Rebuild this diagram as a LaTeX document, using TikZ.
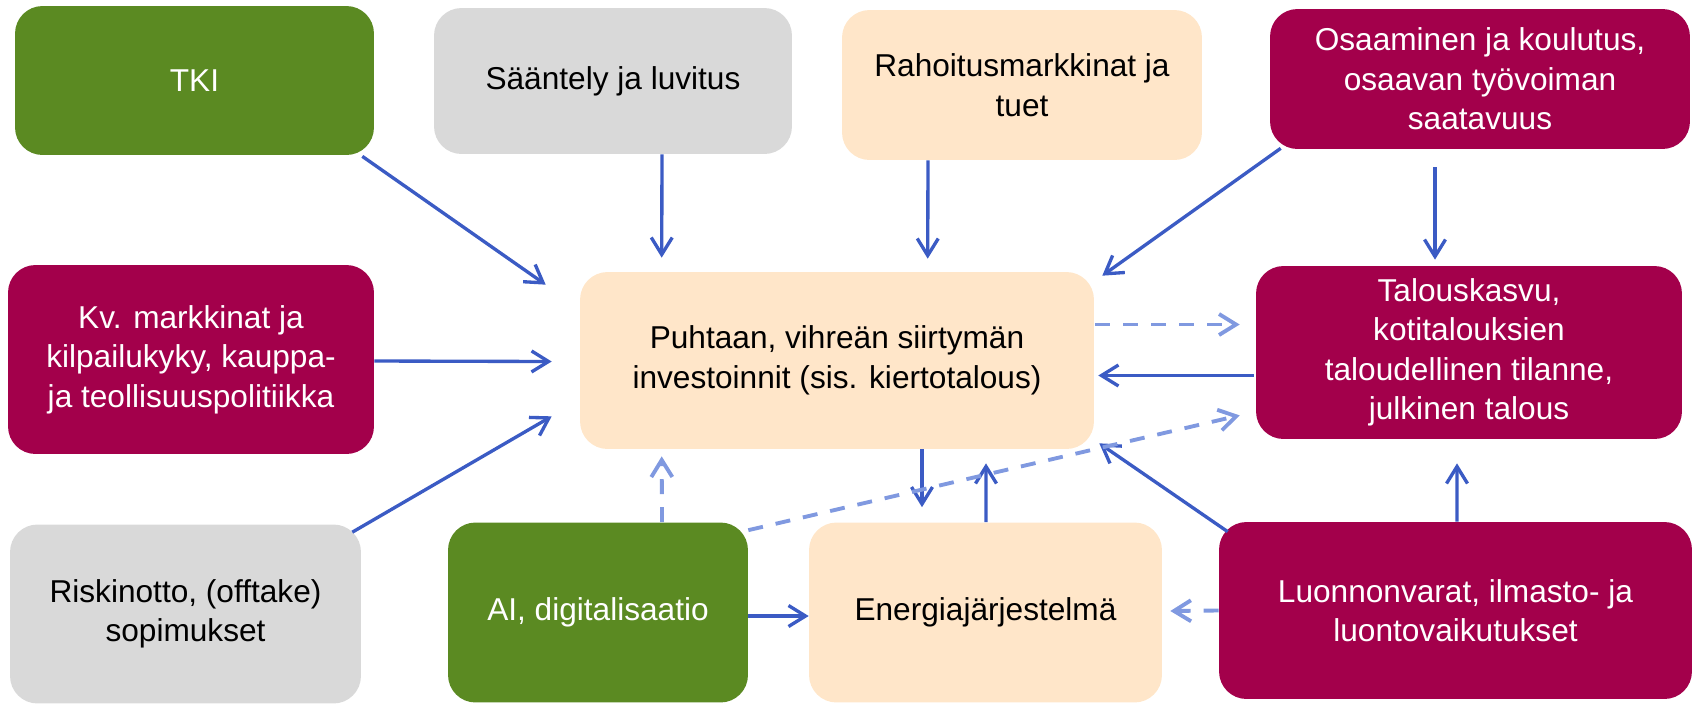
\documentclass[tikz,border=0pt]{standalone}
\usepackage{fontspec}
\setmainfont{Liberation Sans}
\usetikzlibrary{arrows.meta,calc}
\definecolor{boxgreen}{RGB}{91,138,34}
\definecolor{boxgray}{RGB}{217,217,217}
\definecolor{boxpeach}{RGB}{255,230,201}
\definecolor{boxred}{RGB}{163,0,75}
\definecolor{arrblue}{RGB}{59,91,196}
\definecolor{arrlight}{RGB}{128,153,224}

\begin{document}
\begin{tikzpicture}[x=0.02cm,y=-0.02cm,
    box/.style={rounded corners=0.55cm,align=center,inner sep=0pt,
      font=\fontsize{18}{22.5}\selectfont},
    greenbox/.style={box,fill=boxgreen,text=white},
    graybox/.style={box,fill=boxgray,text=black},
    peachbox/.style={box,fill=boxpeach,text=black},
    redbox/.style={box,fill=boxred,text=white},
    arr/.style={-{Straight Barb[length=0.34cm,width=0.42cm]},line width=1.9pt,color=arrblue},
    darr/.style={arr,line width=2.2pt,color=arrlight,dash pattern=on 0.3cm off 0.26cm}]
        \useasboundingbox (0,0) rectangle (1694,708);
        %\draw[very thin,gray,step=50] (0,0) grid (1694,708);
        % top row
        \node[greenbox,minimum width=7.18cm,minimum height=2.98cm] (tki) at (194.5,80.5) {TKI};
        \node[graybox,minimum width=7.16cm,minimum height=2.92cm] (saant) at (613,81) {Sääntely ja luvitus};
        \node[peachbox,minimum width=7.2cm,minimum height=3cm] (rahoitus) at (1022,85) {Rahoitusmarkkinat ja\\ tuet};
        \node[redbox,minimum width=8.4cm,minimum height=2.8cm] (osaam) at (1480,79)
          {Osaaminen ja koulutus,\\ osaavan työvoiman\\ saatavuus};
        % middle row
        \node[redbox,minimum width=7.32cm,minimum height=3.78cm] (kv) at (191,359.5)
          {Kv. markkinat ja\\ kilpailukyky, kauppa-\\ ja teollisuuspolitiikka};
        \node[peachbox,minimum width=10.28cm,minimum height=3.54cm] (puhtaan) at (837,360.5)
          {Puhtaan, vihreän siirtymän\\ investoinnit (sis. kiertotalous)};
        \node[redbox,minimum width=8.52cm,minimum height=3.46cm] (talous) at (1469,352.5)
          {Talouskasvu,\\ kotitalouksien\\ taloudellinen tilanne,\\ julkinen talous};
        % bottom row
        \node[graybox,minimum width=7.02cm,minimum height=3.58cm] (riski) at (185.5,614)
          {Riskinotto, (offtake)\\ sopimukset};
        \node[greenbox,minimum width=6cm,minimum height=3.6cm] (ai) at (598,612.5) {AI, digitalisaatio};
        \node[peachbox,minimum width=7.06cm,minimum height=3.6cm] (energia) at (985.5,612.5) {Energiajärjestelmä};
        \node[redbox,minimum width=9.46cm,minimum height=3.54cm] (luonnon) at (1455.5,610.5)
          {Luonnonvarat, ilmasto- ja\\ luontovaikutukset};
        % solid arrows
        \draw[arr] ($(tki.south east)+(-12,1)$) -- ($(puhtaan.north west)+(-34,13)$);
        \draw[arr] ($(saant.south)+(49,0)$) -- ($(puhtaan.north west)+(82,-14)$);
        \draw[arr] ($(rahoitus.south)+(-94,0)$) -- ($(puhtaan.north west)+(348,-13)$);
        \draw[arr] ($(osaam.south west)+(11,-1)$) -- ($(puhtaan.north east)+(8,4)$);
        \draw[arr] ($(osaam.south)+(-45,18)$) -- ($(talous.north)+(-34,-6)$);
        \draw[arr] ($(kv.east)+(0,1.5)$) -- ($(puhtaan.west)+(-28,1)$);
        \draw[arr] ($(riski.north east)+(-9,8)$) -- ($(puhtaan.south west)+(-28,-33)$);
        \draw[arr] ($(talous.west)+(-2,23)$) -- ($(puhtaan.east)+(4,15)$);
        \draw[arr] ($(ai.east)+(0,3.5)$) -- ($(energia.west)+(0,3.5)$);
        \draw[arr] ($(puhtaan.south)+(85,0)$) -- ($(energia.north)+(-63.5,-15)$);
        \draw[arr] ($(energia.north)+(0.5,0)$) -- ($(puhtaan.south)+(149,14)$);
        \draw[arr] ($(luonnon.north west)+(9,10)$) -- ($(puhtaan.south east)+(5,-6)$);
        \draw[arr] ($(luonnon.north)+(1.5,0)$) -- ($(talous.south)+(-12,24)$);
        % dashed arrows
        \draw[darr] ($(puhtaan.east)+(1,-36)$) -- ($(talous.west)+(-16,-28)$);
        \draw[darr] ($(ai.north)+(64,0)$) -- ($(puhtaan.south west)+(82,7)$);
        \draw[darr] ($(ai.north east)+(0,8)$) -- ($(talous.south west)+(-16,-24)$);
        \draw[darr] (luonnon.west) -- ($(energia.east)+(8,-1.5)$);
      \end{tikzpicture}
\end{document}
